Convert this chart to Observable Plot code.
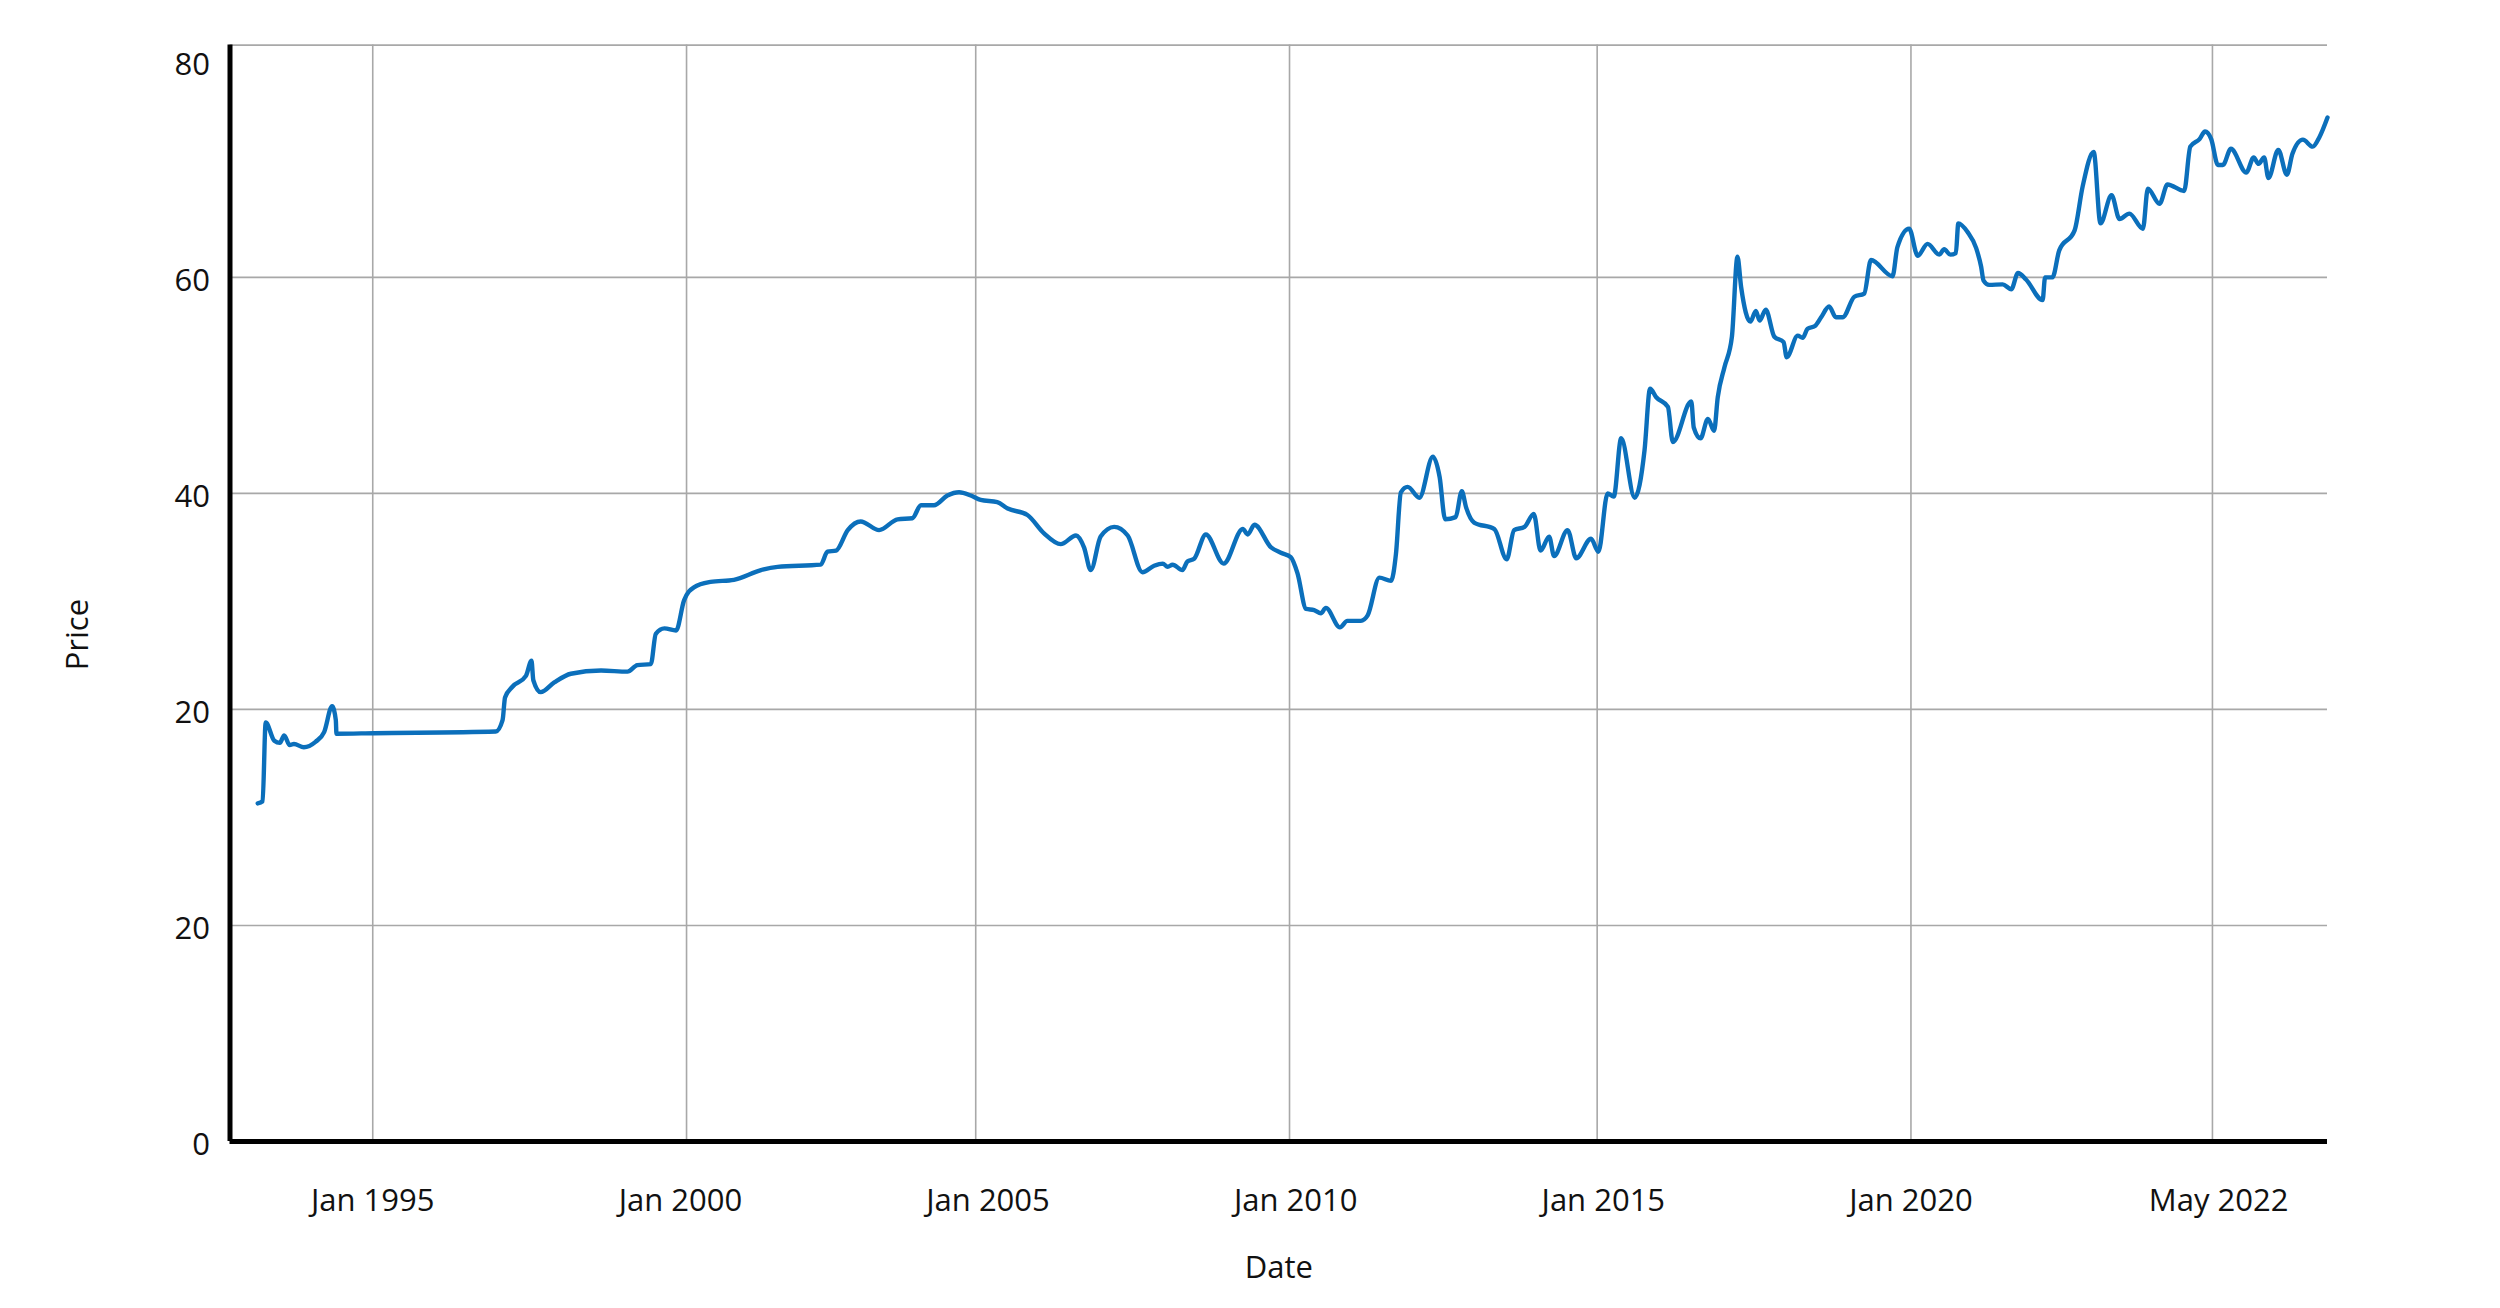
<!DOCTYPE html>
<html>
<head>
<meta charset="utf-8">
<script src="https://cdn.jsdelivr.net/npm/d3@7"></script>
<script src="https://cdn.jsdelivr.net/npm/@observablehq/plot@0.6"></script>
<style>
  html, body { margin: 0; padding: 0; background: #ffffff; }
  #chart { width: 2500px; height: 1308px; }
</style>
</head>
<body>
<div id="chart"></div>
<script>
// ---- data (decimal-year position, price) ----
const years = [
  1993.13, 1993.21, 1993.26, 1993.40, 1993.49, 1993.56, 1993.65, 1993.72, 1993.88, 1994.07,
  1994.21, 1994.34, 1994.40, 1994.41, 1995.02, 1997.00, 1997.11, 1997.15, 1997.27, 1997.49,
  1997.58, 1997.61, 1997.73, 1997.95, 1998.22, 1998.71, 1999.14, 1999.30, 1999.52, 1999.60,
  1999.74, 1999.93, 2000.06, 2000.22, 2000.49, 2000.87, 2001.31, 2001.58, 2002.28, 2002.39,
  2002.53, 2002.72, 2002.93, 2003.23, 2003.53, 2003.77, 2003.91, 2004.12, 2004.34, 2004.53,
  2004.72, 2004.88, 2005.15, 2005.32, 2005.64, 2005.91, 2006.18, 2006.43, 2006.56, 2006.67,
  2006.83, 2007.05, 2007.27, 2007.51, 2007.70, 2007.84, 2007.92, 2008.00, 2008.16, 2008.24,
  2008.35, 2008.54, 2008.83, 2009.14, 2009.22, 2009.33, 2009.60, 2009.76, 2009.92, 2010.03,
  2010.17, 2010.30, 2010.41, 2010.49, 2010.72, 2010.84, 2011.06, 2011.17, 2011.36, 2011.55,
  2011.63, 2011.71, 2011.82, 2012.01, 2012.23, 2012.34, 2012.43, 2012.60, 2012.70, 2012.77,
  2012.90, 2013.23, 2013.43, 2013.55, 2013.72, 2013.87, 2013.98, 2014.12, 2014.20, 2014.42,
  2014.56, 2014.80, 2014.92, 2015.07, 2015.17, 2015.29, 2015.51, 2015.67, 2015.76, 2015.86,
  2016.05, 2016.13, 2016.43, 2016.47, 2016.58, 2016.70, 2016.80, 2016.86, 2016.97, 2017.09,
  2017.18, 2017.24, 2017.39, 2017.48, 2017.54, 2017.64, 2017.78, 2017.93, 2017.98, 2018.16,
  2018.24, 2018.32, 2018.44, 2018.54, 2018.67, 2018.78, 2018.89, 2019.08, 2019.24, 2019.35,
  2019.70, 2019.78, 2019.97, 2020.11, 2020.27, 2020.46, 2020.54, 2020.64, 2020.73, 2020.77,
  2020.92, 2021.06, 2021.14, 2021.18, 2021.27, 2021.49, 2021.63, 2021.74, 2021.87, 2022.14,
  2022.18, 2022.30, 2022.41, 2022.66, 2022.79, 2022.97, 2023.08, 2023.26, 2023.39, 2023.55,
  2023.77, 2023.85, 2024.04, 2024.17, 2024.44, 2024.54, 2024.69, 2024.78, 2024.88, 2024.99,
  2025.07, 2025.20, 2025.45, 2025.57, 2025.65, 2025.74, 2025.81, 2025.97, 2026.11, 2026.20,
  2026.37, 2026.53, 2026.64, 2026.77
];
const prices = [
  31.3, 31.5, 38.8, 37.1, 36.9, 37.6, 36.7, 36.8, 36.5, 37.0,
  37.9, 40.3, 39.0, 37.75, 37.8, 37.95, 39.0, 41.1, 42.1, 43.1,
  44.5, 42.7, 41.6, 42.5, 43.3, 43.6, 43.5, 44.1, 44.2, 47.0,
  47.5, 47.3, 50.1, 51.3, 51.8, 52.0, 52.9, 53.2, 53.4, 54.6,
  54.7, 56.6, 57.4, 56.6, 57.6, 57.7, 58.9, 58.9, 59.8, 60.1,
  59.8, 59.4, 59.2, 58.6, 58.0, 56.3, 55.3, 56.1, 55.0, 52.9,
  56.0, 56.9, 56.1, 52.7, 53.3, 53.5, 53.2, 53.4, 52.9, 53.7,
  53.95, 56.2, 53.5, 56.7, 56.2, 57.1, 55.0, 54.5, 54.1, 52.6,
  49.3, 49.2, 48.9, 49.4, 47.6, 48.2, 48.2, 48.7, 52.2, 51.9,
  54.4, 60.1, 60.6, 59.6, 63.4, 61.5, 57.6, 57.8, 60.2, 58.7,
  57.3, 56.7, 53.9, 56.6, 56.9, 58.1, 54.7, 56.0, 54.2, 56.6,
  54.0, 55.8, 54.6, 60.0, 59.7, 65.1, 59.6, 64.0, 69.7, 68.9,
  68.0, 64.75, 68.5, 66.1, 65.1, 66.9, 65.8, 68.9, 71.7, 74.5,
  81.9, 79.1, 75.9, 76.9, 76.0, 77.0, 74.5, 74.0, 72.6, 74.6,
  74.4, 75.25, 75.5, 76.3, 77.3, 76.3, 76.3, 78.2, 78.5, 81.6,
  80.1, 82.8, 84.5, 82.0, 83.1, 82.1, 82.6, 82.1, 82.25, 85.0,
  84.2, 82.7, 81.0, 79.7, 79.3, 79.35, 78.9, 80.4, 79.8, 77.9,
  80.0, 80.0, 82.5, 84.35, 88.4, 91.6, 85.0, 87.6, 85.4, 85.9,
  84.5, 88.2, 86.8, 88.6, 88.0, 92.1, 92.8, 93.5, 92.8, 90.4,
  90.4, 91.9, 89.7, 91.1, 90.5, 91.1, 89.2, 91.8, 89.5, 91.45,
  92.75, 92.1, 93.0, 94.8
];

// ---- axes / ticks ----
const xTickValues = [1995, 2000, 2005, 2010, 2015, 2020, 2025];
const xTickLabels = ["Jan 1995", "Jan 2000", "Jan 2005", "Jan 2010", "Jan 2015", "Jan 2020", "May 2022"];
const xGridValues = [1995, 2000.1, 2004.8, 2009.9, 2014.9, 2020, 2024.9];
const yTickValues = [0, 20, 40, 60, 80, 100];
const yTickLabels = ["0", "20", "20", "40", "60", "80"];
const yGridValues = [20, 40, 60, 80];
const xDomain = [1992.68, 2026.77];
const yDomain = [0, 101.5];

const rows = years.map((x, i) => ({x, y: prices[i]}));

const FONT = "'Open Sans', 'Noto Sans', sans-serif";
const gridColor = "#a8a8a8";
const FS = 31;

const chart = Plot.plot({
  width: 2500,
  height: 1308,
  marginLeft: 229.5,
  marginRight: 173,
  marginTop: 44.6,
  marginBottom: 167,
  style: {fontFamily: FONT, background: "#ffffff", color: "#111"},
  x: {type: "linear", domain: xDomain, axis: null},
  y: {type: "linear", domain: yDomain, axis: null},
  marks: [
    Plot.ruleY(yGridValues, {stroke: gridColor, strokeWidth: 1.6}),
    Plot.ruleY([yDomain[1]], {stroke: gridColor, strokeWidth: 1.6}),
    Plot.ruleX(xGridValues, {stroke: gridColor, strokeWidth: 1.6}),
    Plot.line(rows, {x: "x", y: "y", stroke: "#0b6fbb", strokeWidth: 4.4, curve: "monotone-x", strokeLinejoin: "round", strokeLinecap: "round"}),
    Plot.ruleX([xDomain[0]], {stroke: "#000", strokeWidth: 5}),
    Plot.ruleY([0], {stroke: "#000", strokeWidth: 5}),
    Plot.text(yTickValues, {
      y: d => d, frameAnchor: "left", dx: -20, dy: 4, textAnchor: "end",
      text: d => yTickLabels[yTickValues.indexOf(d)], fontSize: FS, fill: "#111"
    }),
    Plot.text(xTickValues, {
      x: d => d, frameAnchor: "bottom", dy: 69,
      text: d => xTickLabels[xTickValues.indexOf(d)], fontSize: FS, fill: "#111"
    }),
    Plot.text(["Price"], {frameAnchor: "left", dx: -152, dy: 77, rotate: -90, fontSize: FS, fill: "#111"}),
    Plot.text(["Date"], {frameAnchor: "bottom", dy: 136, fontSize: FS, fill: "#111"})
  ]
});
document.getElementById("chart").appendChild(chart);
</script>
</body>
</html>
